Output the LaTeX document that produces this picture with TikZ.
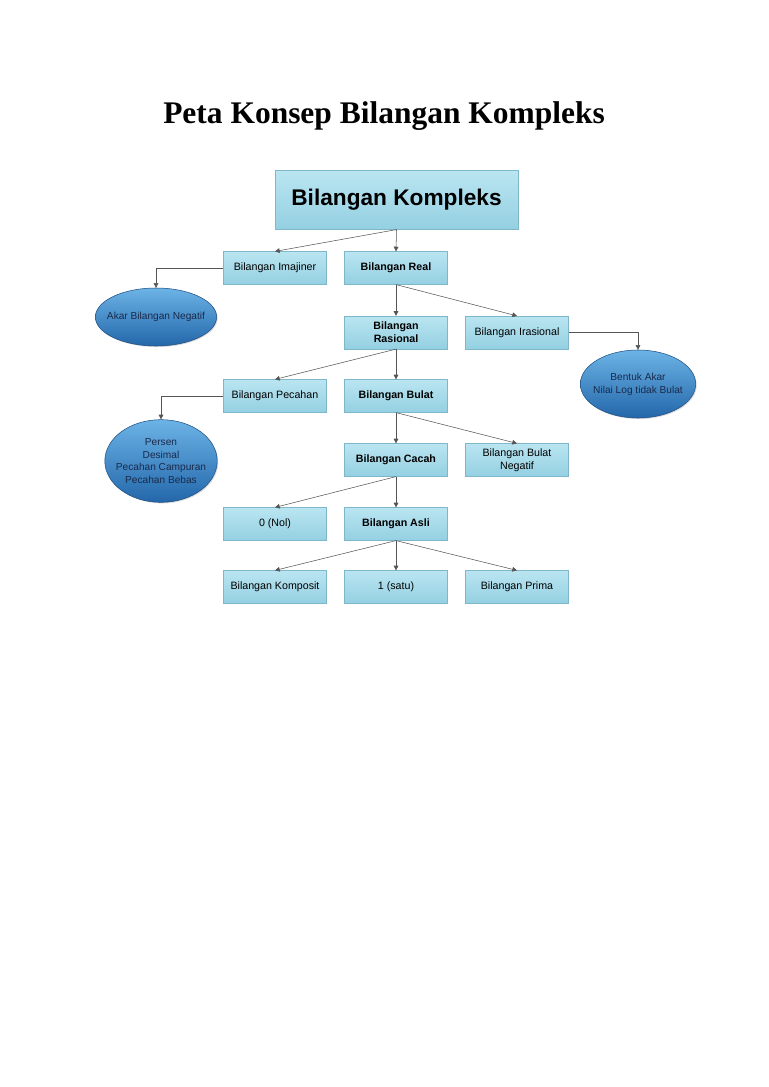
\documentclass[tikz,border=0pt]{standalone}
\usepackage{fontspec}
\setmainfont{Liberation Serif}
\newfontfamily\arialfont{Liberation Sans}
\usepackage{xcolor}
\usetikzlibrary{arrows.meta,shadows,shapes.geometric}

\definecolor{boxtop}{HTML}{BAE5F1}
\definecolor{boxbot}{HTML}{94D0E2}
\definecolor{boxline}{HTML}{7DB7C9}
\definecolor{ovaltop}{HTML}{6CB3E6}
\definecolor{ovalbot}{HTML}{2367AA}
\definecolor{ovalline}{HTML}{1F4F82}
\definecolor{ovaltext}{HTML}{1A2A4A}
\definecolor{linkgray}{HTML}{555555}

\begin{document}
\begin{tikzpicture}[
    x=0.75pt, y=-0.75pt,
    concept/.style={rectangle, draw=boxline, top color=boxtop, bottom color=boxbot, minimum width=77pt, minimum height=24.5pt, inner sep=1pt, align=center, font=\arialfont\fontsize{8}{9.5}\selectfont, drop shadow={shadow xshift=0.8pt, shadow yshift=-0.8pt, opacity=0.3}},
    keyconcept/.style={concept, font=\arialfont\bfseries\fontsize{8}{9.5}\selectfont},
    mainconcept/.style={concept, minimum width=182pt, minimum height=44pt, font=\arialfont\bfseries\fontsize{17}{20}\selectfont},
    example/.style={ellipse, draw=ovalline, top color=ovaltop, bottom color=ovalbot, inner ysep=0pt, align=center, text=ovaltext, font=\arialfont\fontsize{7.6}{9.6}\selectfont, drop shadow={shadow xshift=0.8pt, shadow yshift=-0.8pt, opacity=0.3}},
    link/.style={draw=linkgray, thin, -{Triangle[width=3.5pt,length=3.5pt]}}
]

\useasboundingbox (0,0) rectangle (768,1087);

% Title
\node (title) at (384,116) {\bfseries\fontsize{23.6}{28}\selectfont Peta Konsep Bilangan Kompleks};

% Main concept
\node[mainconcept] (kompleks) at (396.5,200) {Bilangan Kompleks};

% Row 1
\node[concept] (imajiner) at (275,268) {Bilangan Imajiner};
\node[keyconcept] (real) at (396,268) {Bilangan Real};

% Row 2
\node[keyconcept] (rasional) at (396,332.5) {Bilangan\\Rasional};
\node[concept] (irasional) at (517,332.5) {Bilangan Irasional};

% Row 3
\node[concept] (pecahan) at (275,396) {Bilangan Pecahan};
\node[keyconcept] (bulat) at (396,396) {Bilangan Bulat};

% Row 4
\node[keyconcept] (cacah) at (396,460) {Bilangan Cacah};
\node[concept] (negatif) at (517,460) {Bilangan Bulat\\Negatif};

% Row 5
\node[concept] (nol) at (275,524) {0 (Nol)};
\node[keyconcept] (asli) at (396,524) {Bilangan Asli};

% Row 6
\node[concept] (komposit) at (275,587) {Bilangan Komposit};
\node[concept] (satu) at (396,587) {1 (satu)};
\node[concept] (prima) at (517,587) {Bilangan Prima};

% Examples
\node[example, inner xsep=-4.6pt, minimum height=43.5pt] (akar) at (156,317) {Akar Bilangan Negatif};
\node[example, inner xsep=-3pt, minimum height=51pt] (bentuk) at (638,384) {Bentuk Akar\\Nilai Log tidak Bulat};
\node[example, inner xsep=-4pt, minimum height=62pt] (persen) at (161,461) {Persen\\Desimal\\Pecahan Campuran\\Pecahan Bebas};

% Connectors
\draw[link] (kompleks.south) -- (imajiner.north);
\draw[link] (kompleks.south) -- (real.north);
\draw[link] (imajiner.west) -| (akar.north);
\draw[link] (real.south) -- (rasional.north);
\draw[link] (real.south) -- (irasional.north);
\draw[link] (irasional.east) -| (bentuk.north);
\draw[link] (rasional.south) -- (pecahan.north);
\draw[link] (rasional.south) -- (bulat.north);
\draw[link] (pecahan.west) -| (persen.north);
\draw[link] (bulat.south) -- (cacah.north);
\draw[link] (bulat.south) -- (negatif.north);
\draw[link] (cacah.south) -- (nol.north);
\draw[link] (cacah.south) -- (asli.north);
\draw[link] (asli.south) -- (komposit.north);
\draw[link] (asli.south) -- (satu.north);
\draw[link] (asli.south) -- (prima.north);

\end{tikzpicture}
\end{document}
